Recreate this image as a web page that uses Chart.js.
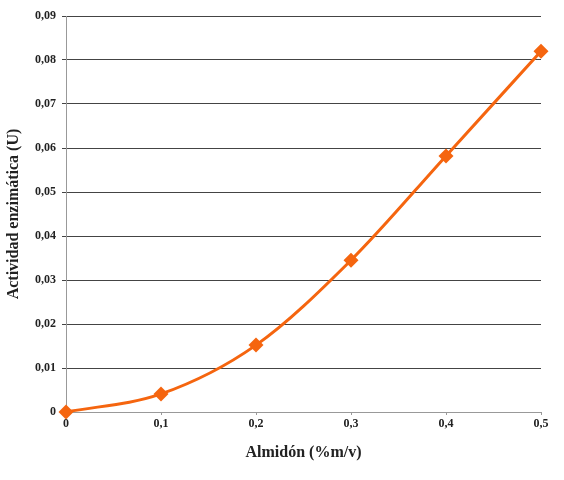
<!DOCTYPE html>
<html>
<head>
<meta charset="utf-8">
<script src="https://cdn.jsdelivr.net/npm/chart.js@4.4.0/dist/chart.umd.min.js"></script>
<style>
    html, body { margin: 0; padding: 0; background: #fff; }
    #wrap { width: 564px; height: 480px; }
</style>
</head>
<body>
<div id="wrap"><canvas id="chart" width="564" height="480"></canvas></div>
<script>
// Almidón (%m/v) vs actividad enzimática (U)
const almidon = [0, 0.1, 0.2, 0.3, 0.4, 0.5];
const actividad = [0, 0.0041, 0.0152, 0.0345, 0.0582, 0.082];
const xTicks = [0, 0.1, 0.2, 0.3, 0.4, 0.5];
const yTicks = [0, 0.01, 0.02, 0.03, 0.04, 0.05, 0.06, 0.07, 0.08, 0.09];

const orange = '#f5650f';
const serif = '"Liberation Serif", "Times New Roman", serif';

const fmt = v => {
    if (Math.abs(v) < 1e-9) return '0';
    return (Math.round(v * 100) / 100).toString().replace('.', ',');
};

const ctx = document.getElementById('chart').getContext('2d');
new Chart(ctx, {
    type: 'line',
    data: {
        datasets: [{
            data: almidon.map((x, i) => ({ x: x, y: actividad[i] })),
            borderColor: orange,
            backgroundColor: orange,
            borderWidth: 3,
            tension: 0.4,
            cubicInterpolationMode: 'monotone',
            pointStyle: 'rectRot',
            pointRadius: 7.5,
            pointBorderWidth: 0,
            clip: false
        }]
    },
    options: {
        responsive: false,
        animation: false,
        layout: { padding: { left: 0, right: 23, top: 16, bottom: 14 } },
        plugins: {
            legend: { display: false },
            tooltip: { enabled: false }
        },
        scales: {
            x: {
                type: 'linear',
                min: 0,
                max: 0.5,
                afterBuildTicks: s => { s.ticks = xTicks.map(v => ({ value: v })); },
                afterFit: s => { s.height = 54; },
                ticks: {
                    callback: v => v === 0 ? '0' : fmt(v),
                    font: { family: serif, size: 12, weight: 'bold' },
                    color: '#222',
                    padding: 2,
                    maxRotation: 0
                },
                grid: {
                    drawOnChartArea: false,
                    drawTicks: true,
                    tickLength: 3,
                    color: '#999'
                },
                border: { color: '#999', width: 1 },
                title: {
                    display: true,
                    text: 'Almidón (%m/v)',
                    font: { family: serif, size: 16, weight: 'bold' },
                    color: '#222',
                    padding: { top: 6 }
                }
            },
            y: {
                min: 0,
                max: 0.09,
                afterBuildTicks: s => { s.ticks = yTicks.map(v => ({ value: v })); },
                afterFit: s => { s.width = 66; },
                ticks: {
                    callback: v => fmt(v),
                    font: { family: serif, size: 12, weight: 'bold' },
                    color: '#222',
                    padding: 6
                },
                grid: {
                    color: c => c.tick && c.tick.value === 0 ? '#999' : '#444',
                    lineWidth: 1,
                    tickLength: 4
                },
                border: { color: '#999', width: 1 },
                title: {
                    display: true,
                    text: 'Actividad enzimática (U)',
                    font: { family: serif, size: 16, weight: 'bold' },
                    color: '#222',
                    padding: { bottom: 2 }
                }
            }
        }
    }
});
</script>
</body>
</html>
